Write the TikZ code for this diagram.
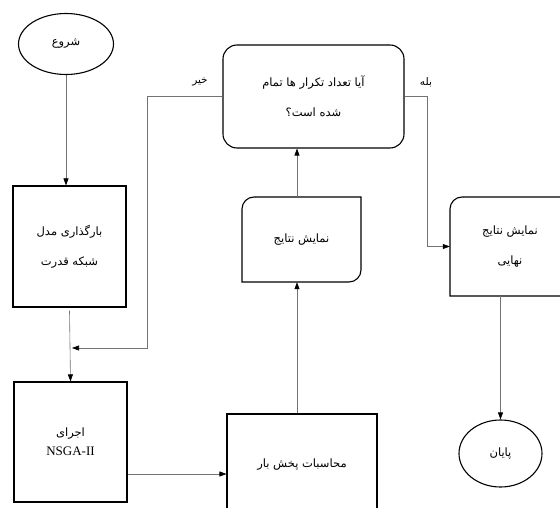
\documentclass[tikz,border=0pt]{standalone}
\usepackage{fontspec}
\setmainfont{Liberation Serif}
\newfontfamily\arabicfont[Script=Arabic]{DejaVu Sans}
\TeXXeTstate=1
\usetikzlibrary{arrows.meta,shapes.geometric}
\newcommand\fa[1]{{\arabicfont\beginR #1\endR}}
\tikzset{
  boxline/.style={draw=black, line width=1.1pt},
  rect/.style={boxline, rectangle, inner sep=0pt, align=center, font=\fontsize{11.5}{30}\selectfont},
  plain/.style={rectangle, inner sep=0pt, align=center, font=\fontsize{11.5}{30}\selectfont},
  ell/.style={boxline, ellipse, inner sep=0pt, font=\fontsize{11.5}{12}\selectfont},
  conn/.style={draw=black!55, line width=0.6pt},
  arr/.style={-{Triangle[length=7pt,width=5pt,fill=black,color=black]}},
  lbl/.style={inner sep=0pt, font=\fontsize{10.5}{12}\selectfont}
}
\begin{document}
\begin{tikzpicture}[x=1pt,y=-1pt]
\useasboundingbox (0,0) rectangle (560,508);
\fill[white] (0,0) rectangle (560,508);
\clip (0,0) rectangle (560,508);

% nodes
\node[ell, minimum width=95, minimum height=61] (start) at (66,44) {\fa{شروع}};
\node[rect, minimum width=113, minimum height=121] (b1) at (69.5,246.5) {\fa{بارگذاری مدل}\\\fa{شبکه قدرت}};
\node[rect, minimum width=113, minimum height=120, font=\fontsize{11.5}{19}\selectfont] (b2) at (70.5,442) {\fa{اجرای}\\{\fontsize{13}{19}\selectfont NSGA-II}};
\node[rect, minimum width=150, minimum height=102] (b3) at (302,465) {\fa{محاسبات پخش بار}};
\node[plain, minimum width=119, minimum height=85] (b4) at (301.5,239.5) {\fa{نمایش نتایج}};
\node[rect, rounded corners=14pt, minimum width=181, minimum height=103] (dec) at (313.5,96.5) {\fa{آیا تعداد تکرار ها تمام}\\\fa{شده است؟}};
\node[plain, minimum width=120, minimum height=99] (b5) at (510,246.5) {\fa{نمایش نتایج}\\\fa{نهایی}};
\node[ell, minimum width=83, minimum height=67] (end) at (500.5,453.5) {\fa{پایان}};

% shapes with mixed corners
\draw[boxline] (242,282) -- (242,209) arc[start angle=180,end angle=270,radius=12]
  -- (361,197) -- (361,270) arc[start angle=0,end angle=90,radius=12] -- cycle;
\draw[boxline] (450,296) -- (450,209) arc[start angle=180,end angle=270,radius=12]
  -- (580,197) -- (580,296) -- cycle;

% labels
\node[lbl] (no) at (200,82) {\fa{خیر}};
\node[lbl] (yes) at (426,82) {\fa{بله}};

% helper coordinates
\coordinate (fb) at (72,348);
\coordinate (fx) at (147,348);
\coordinate (yj) at (427,0);
\coordinate (y474) at (0,474);
\coordinate (cx) at (297,0);

% connectors
\draw[conn,arr] (start.south) -- (start.south |- b1.north);
\draw[conn,arr] ([yshift=-3pt]b1.south) -- (b2.north);
\draw[conn,arr] (dec.west) -| (fx) -- (fb);
\draw[conn,arr] (b2.east |- y474) -- (b3.west |- y474);
\draw[conn,arr] (cx |- b3.north) -- (cx |- b4.south);
\draw[conn,arr] (cx |- b4.north) -- (cx |- dec.south);
\draw[conn,arr] (dec.east) -| (yj |- b5.west) -- (b5.west);
\draw[conn,arr] (end |- b5.south) -- (end.north);
\end{tikzpicture}
\end{document}
